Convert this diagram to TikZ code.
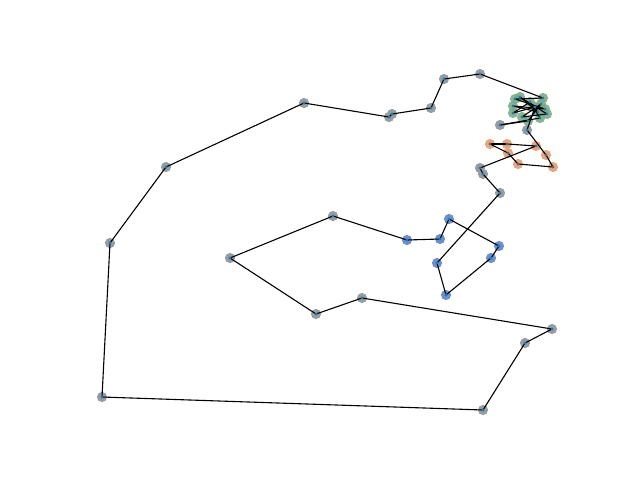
\documentclass[tikz,border=0pt]{standalone}
\definecolor{gnode}{RGB}{150,156,160}
\definecolor{bnode}{RGB}{108,144,204}
\definecolor{onode}{RGB}{236,164,124}
\definecolor{cnode}{RGB}{118,168,130}
\definecolor{dotc}{RGB}{31,119,180}
\tikzset{
  vtx/.style={circle,inner sep=0pt,minimum size=10.2pt,draw=none},
  gv/.style={vtx,fill=gnode},
  bv/.style={vtx,fill=bnode},
  ov/.style={vtx,fill=onode},
  cv/.style={vtx,fill=cnode,fill opacity=0.85},
  edge/.style={draw=black,line width=1.1pt},
  cdot/.style={fill=dotc}
}
\begin{document}
\begin{tikzpicture}[x=1pt,y=-1pt]
\useasboundingbox (0,0) rectangle (640,480);
% grey path
\node[gv] (n1) at (480,74) {};
\node[gv] (n2) at (444,79) {};
\node[gv] (n3) at (431,108) {};
\node[gv] (n4) at (392,114) {};
\node[gv] (n5) at (389,117) {};
\node[gv] (n6) at (304,103) {};
\node[gv] (n7) at (166,167) {};
\node[gv] (n8) at (110,243) {};
\node[gv] (n9) at (102,397) {};
\node[gv] (n10) at (483,410) {};
\node[gv] (n11) at (525,343) {};
\node[gv] (n12) at (552,329) {};
\node[gv] (n13) at (362,298) {};
\node[gv] (n14) at (316,314) {};
\node[gv] (n15) at (230,258) {};
\node[gv] (n16) at (333,216) {};
% blue
\node[bv] (n17) at (407,240) {};
\node[bv] (n18) at (440,239) {};
\node[bv] (n19) at (449,219) {};
\node[bv] (n20) at (499,246) {};
\node[bv] (n21) at (491,258) {};
\node[bv] (n22) at (446,295) {};
\node[bv] (n23) at (437,263) {};
% grey
\node[gv] (n24) at (500,193) {};
\node[gv] (n25) at (483,174) {};
\node[gv] (n26) at (480,168) {};
% orange
\node[ov] (n27) at (536,146) {};
\node[ov] (n28) at (507,144) {};
\node[ov] (n29) at (490,144) {};
\node[ov] (n30) at (508,153) {};
\node[ov] (n31) at (518,164) {};
\node[ov] (n32) at (553,167) {};
\node[ov] (n33) at (546,155) {};
% cluster
\node[gv] (n34) at (527,130) {};
\node[cv] (n35) at (535,107) {};
\node[cv] (n36) at (513,113) {};
\node[cv] (n37) at (530,102) {};
\node[cv] (n38) at (540,118) {};
\node[gv] (n39) at (500,125) {};
\node[cv] (n40) at (528,121) {};
\node[cv] (n41) at (541,104) {};
\node[cv] (n42) at (522,117) {};
\node[cv] (n43) at (547,114) {};
\node[cv] (n44) at (520,97) {};
\node[cv] (n45) at (538,112) {};
\node[cv] (n46) at (513,106) {};
\node[cv] (n47) at (545,109) {};
\node[cv] (n48) at (515,99) {};
\node[cv] (n49) at (543,98) {};
% edges
\foreach \i [evaluate=\i as \j using int(\i+1)] in {1,...,48}
  \draw[edge] (n\i.center) -- (n\j.center);
\draw[edge] (n49.center) -- (n1.center);
% centre dots
\foreach \i in {1,...,49}
  \fill[cdot] (n\i.center) circle (1.6pt);
\end{tikzpicture}
\end{document}
